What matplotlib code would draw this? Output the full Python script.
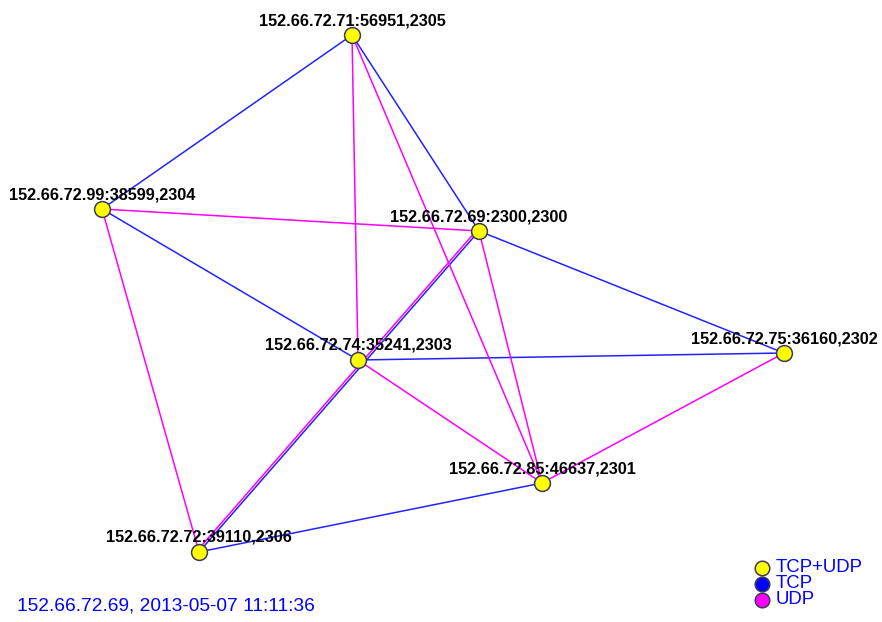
import matplotlib
matplotlib.use("Agg")
import matplotlib.pyplot as plt

# Nodes: name -> layout position (pixel-space layout of the graph)
node_names = ["152.66.72.71:56951,2305", "152.66.72.99:38599,2304",
              "152.66.72.69:2300,2300", "152.66.72.74:35241,2303",
              "152.66.72.75:36160,2302", "152.66.72.85:46637,2301",
              "152.66.72.72:39110,2306"]
node_x = [352, 102, 479, 358, 784, 542, 199]
node_y = [35, 209, 231, 360, 353, 483, 552]

# Edges (indices into node lists)
tcp_edges = [(0, 1), (0, 2), (1, 3), (2, 4), (3, 4), (6, 2), (6, 5)]
udp_edges = [(0, 3), (0, 5), (1, 2), (1, 6), (2, 5), (3, 5), (5, 4), (6, 2)]

legend_labels = ["TCP+UDP", "TCP", "UDP"]
title_text = "152.66.72.69, 2013-05-07 11:11:36"

BLUE = "#0000FF"
EDGE_BLUE = "#2222FF"
MAG = "#FF00FF"

fig = plt.figure(figsize=(8.82, 6.22), dpi=100)
ax = fig.add_axes([0, 0, 1, 1])
ax.set_xlim(0, 882)
ax.set_ylim(622, 0)
ax.axis("off")

for a, b in tcp_edges:
    ax.plot([node_x[a], node_x[b]], [node_y[a], node_y[b]], color=EDGE_BLUE, lw=1.1, zorder=2)
for a, b in udp_edges:
    dx = -3 if (a, b) == (6, 2) else 0
    ax.plot([node_x[a] + dx, node_x[b] + dx], [node_y[a], node_y[b]], color=MAG, lw=1.1, zorder=2)

ax.scatter(node_x, node_y, s=130, c="#FFFF00", edgecolors="#3a3a5a", linewidths=1.1, zorder=3)

for name, x, y in zip(node_names, node_x, node_y):
    ax.text(x, y - 10, name, ha="center", va="baseline", fontsize=11.7,
            fontweight="bold", family="Liberation Sans", color="black", zorder=4)

leg_colors = ["#FFFF00", BLUE, MAG]
for i, (lab, col) in enumerate(zip(legend_labels, leg_colors)):
    yy = 568 + 16 * i
    ax.scatter([762], [yy], s=110, c=col, edgecolors="#3a3a5a", linewidths=1.1, zorder=3)
    ax.text(776, yy, lab, ha="left", va="center", fontsize=13.4,
            family="Liberation Sans", color=BLUE)

ax.text(17, 606, title_text, ha="left", va="center", fontsize=13.8,
        family="Liberation Sans", color=BLUE)

fig.savefig("out.png", dpi=100)
